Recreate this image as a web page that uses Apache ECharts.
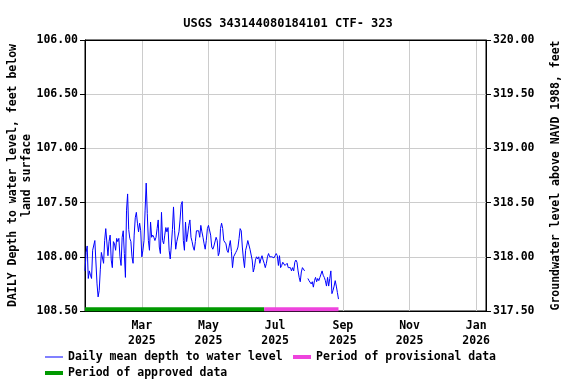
<!DOCTYPE html>
<html>
<head>
<meta charset="utf-8">
<title>USGS 343144080184101 CTF- 323</title>
<script src="https://cdn.jsdelivr.net/npm/echarts@6.0.0/dist/echarts.min.js"></script>
<style>
  html, body { margin: 0; padding: 0; background: #fff; }
  #chart { width: 576px; height: 384px; }
</style>
</head>
<body>
<div id="chart"></div>
<script>
// first day of the daily record, one value per day after that
var startDay = [2025, 0, 8];
// daily mean depth to water, feet below land surface (null = no data)
var depthValues = [
    108.13, 107.96, 107.90, 108.20, 108.13, 108.17, 108.20, 107.94, 107.93, 107.85,
    107.86, 108.25, 108.37, 108.31, 108.12, 107.96, 107.97, 108.06, 107.85, 107.74,
    107.73, 107.99, 107.86, 107.80, 108.03, 108.10, 107.86, 107.88, 107.94, 107.83,
    107.86, 107.83, 108.00, 108.08, 107.82, 107.76, 107.97, 108.19, 107.57, 107.42,
    107.75, 107.83, 107.86, 108.00, 108.06, 107.80, 107.64, 107.59, 107.69, 107.77,
    107.69, 107.76, 108.00, 107.94, 107.85, 107.57, 107.32, 107.60, 107.85, 107.94,
    107.68, 107.82, 107.80, 107.82, 107.85, 107.82, 107.74, 107.66, 107.91, 107.97,
    107.59, 107.85, 107.88, 107.80, 107.73, 107.77, 107.73, 107.94, 108.02, 107.90,
    107.75, 107.54, 107.76, 107.93, 107.86, 107.85, 107.77, 107.66, 107.52, 107.49,
    107.85, 107.94, 107.68, 107.86, 107.79, 107.71, 107.66, 107.82, 107.86, 107.91,
    107.94, 107.86, 107.76, 107.77, 107.76, 107.82, 107.71, 107.77, 107.82, 107.88,
    107.93, 107.85, 107.74, 107.71, 107.71, 107.80, 107.91, 107.93, 107.90, 107.90,
    107.82, 107.85, 107.99, 107.96, 107.74, 107.69, 107.74, 107.85, 107.86, 107.88,
    107.94, 107.96, 107.90, 107.85, 107.95, 108.10, 108.00, 107.99, 107.96, 107.94,
    107.91, 107.83, 107.74, 107.76, 107.91, 108.02, 108.10, 107.94, 107.90, 107.85,
    107.86, 107.93, 107.94, 108.03, 108.14, 108.10, 108.03, 108.00, 108.02, 108.00,
    108.06, 108.02, 107.99, 108.03, 108.06, 108.10, 108.06, 108.00, 107.97, 108.00,
    107.99, 108.00, 108.00, 108.01, 107.99, 107.97, 107.99, 108.08, 107.99, 108.10,
    108.08, 108.05, 108.06, 108.08, 108.08, 108.06, 108.10, 108.11, 108.10, 108.13,
    108.10, 108.13, 108.05, 108.03, 108.05, 108.13, 108.19, 108.23, 108.14, 108.10,
    108.11, 108.13, null, null, 108.20, 108.22, 108.22, 108.25, 108.23, 108.28,
    108.22, 108.19, 108.23, 108.20, 108.22, 108.19, 108.16, 108.13, 108.17, 108.19,
    108.22, 108.27, 108.19, 108.27, 108.20, 108.13, 108.34, 108.31, 108.27, 108.22,
    108.27, 108.33, 108.39
];
// approval periods [from, to]
var approvedPeriod = ['2025-01-08', '2025-06-21'];
var provisionalPeriod = ['2025-06-21', '2025-08-28'];
// x axis range and labelled months
var xRange = ['2025-01-08', '2026-01-10'];
var tickDates = ['2025-03-01', '2025-05-01', '2025-07-01', '2025-09-01', '2025-11-01', '2026-01-01'];
var monthNames = ['Jan', 'Feb', 'Mar', 'Apr', 'May', 'Jun', 'Jul', 'Aug', 'Sep', 'Oct', 'Nov', 'Dec'];

var FONT = 'DejaVu Sans Mono';

function toTime(s) {
    var p = s.split('-');
    return new Date(+p[0], +p[1] - 1, +p[2]).getTime();
}

var myChart = echarts.init(document.getElementById('chart'));

// build [time, depth] pairs
var depthData = [];
for (var i = 0; i < depthValues.length; i++) {
    var t = new Date(startDay[0], startDay[1], startDay[2] + i).getTime();
    depthData.push([t, depthValues[i]]);
}

var barLevel = 108.485;
var tickTimes = tickDates.map(toTime);

var textStyle = { fontFamily: FONT, fontWeight: 'bold', fontSize: 11.5, color: '#000' };

var option = {
    animation: false,
    backgroundColor: '#fff',
    title: {
        text: 'USGS 343144080184101 CTF- 323',
        left: 'center',
        top: 13,
        textStyle: { fontFamily: FONT, fontWeight: 'bold', fontSize: 12, color: '#000' }
    },
    grid: {
        left: 85, right: 90, top: 40, bottom: 73,
        outerBoundsMode: 'none',
        containLabel: false,
        show: true, borderColor: '#000', borderWidth: 1
    },
    legend: [{
        left: 40, top: 346, itemWidth: 18, itemHeight: 1, itemGap: 10,
        textStyle: textStyle,
        data: [{ name: 'Daily mean depth to water level', icon: 'rect' }]
    }, {
        left: 288, top: 346, itemWidth: 18, itemHeight: 4,
        textStyle: textStyle,
        data: [{ name: 'Period of provisional data', icon: 'rect' }]
    }, {
        left: 40, top: 362, itemWidth: 18, itemHeight: 4,
        textStyle: textStyle,
        data: [{ name: 'Period of approved data', icon: 'rect' }]
    }],
    xAxis: [{
        // timestamps on a value axis so the month lines can be placed exactly
        type: 'value',
        min: toTime(xRange[0]),
        max: toTime(xRange[1]),
        axisLine: { onZero: false, lineStyle: { color: '#000', width: 1 } },
        axisTick: { show: false, customValues: tickTimes },
        splitLine: { show: true, lineStyle: { color: '#cccccc', width: 1 } },
        axisLabel: {
            customValues: tickTimes,
            margin: 8,
            lineHeight: 15,
            fontFamily: FONT, fontWeight: 'bold', fontSize: 11.5, color: '#000',
            formatter: function (val) {
                var d = new Date(val);
                return monthNames[d.getMonth()] + '\n' + d.getFullYear();
            }
        }
    }, {
        // top frame line only
        type: 'value',
        position: 'top',
        min: toTime(xRange[0]),
        max: toTime(xRange[1]),
        axisLine: { show: true, onZero: false, lineStyle: { color: '#000', width: 1 } },
        axisTick: { show: false },
        axisLabel: { show: false },
        splitLine: { show: false }
    }],
    yAxis: [{
        type: 'value',
        inverse: true,
        min: 106, max: 108.5, interval: 0.5,
        name: 'DAILY Depth to water level, feet below\nland surface',
        nameLocation: 'middle',
        nameRotate: 90,
        nameGap: 51,
        nameMoveOverlap: false,
        nameTextStyle: { fontFamily: FONT, fontWeight: 'bold', fontSize: 11.5, color: '#000', lineHeight: 14 },
        axisLine: { show: true, onZero: false, lineStyle: { color: '#000' } },
        axisTick: { show: true, length: 5, lineStyle: { color: '#000' } },
        splitLine: { show: true, lineStyle: { color: '#cccccc', width: 1 } },
        axisLabel: {
            margin: 7,
            fontFamily: FONT, fontWeight: 'bold', fontSize: 11.5, color: '#000',
            formatter: function (v) { return v.toFixed(2); }
        }
    }, {
        type: 'value',
        position: 'right',
        min: 317.5, max: 320, interval: 0.5,
        name: 'Groundwater level above NAVD 1988, feet',
        nameLocation: 'middle',
        nameRotate: 90,
        nameGap: 64,
        nameMoveOverlap: false,
        nameTextStyle: { fontFamily: FONT, fontWeight: 'bold', fontSize: 11.5, color: '#000' },
        axisLine: { show: true, onZero: false, lineStyle: { color: '#000' } },
        axisTick: { show: true, length: 5, lineStyle: { color: '#000' } },
        splitLine: { show: false },
        axisLabel: {
            margin: 7,
            fontFamily: FONT, fontWeight: 'bold', fontSize: 11.5, color: '#000',
            formatter: function (v) { return v.toFixed(2); }
        }
    }],
    series: [{
        name: 'Daily mean depth to water level',
        type: 'line',
        yAxisIndex: 0,
        data: depthData,
        showSymbol: false,
        connectNulls: false,
        lineStyle: { color: '#0000ff', width: 1 },
        itemStyle: { color: '#0000ff' }
    }, {
        name: 'Period of approved data',
        type: 'line',
        yAxisIndex: 0,
        data: [[toTime(approvedPeriod[0]), barLevel], [toTime(approvedPeriod[1]), barLevel]],
        showSymbol: false,
        lineStyle: { color: '#009900', width: 4 },
        itemStyle: { color: '#009900' }
    }, {
        name: 'Period of provisional data',
        type: 'line',
        yAxisIndex: 0,
        data: [[toTime(provisionalPeriod[0]), barLevel], [toTime(provisionalPeriod[1]), barLevel]],
        showSymbol: false,
        lineStyle: { color: '#ee44dd', width: 4 },
        itemStyle: { color: '#ee44dd' }
    }]
};

myChart.setOption(option);
</script>
</body>
</html>
